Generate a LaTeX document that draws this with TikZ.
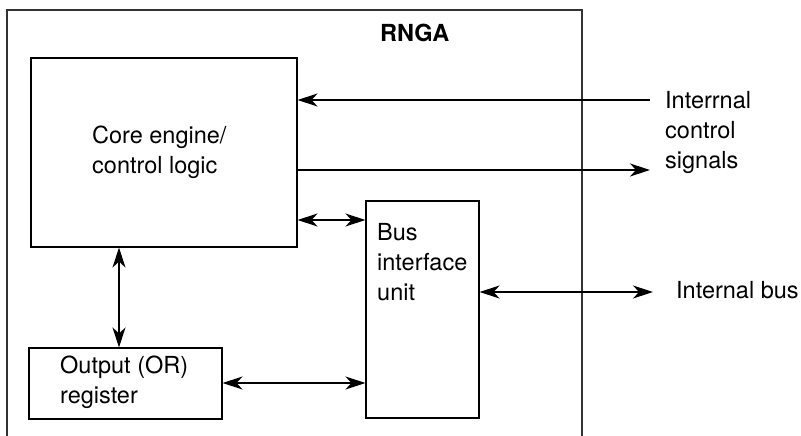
\documentclass[tikz,border=0pt]{standalone}
\usepackage{fontspec}
\setmainfont{TeX Gyre Heros}
\usetikzlibrary{arrows.meta}
\begin{document}
\begin{tikzpicture}[x=1pt,y=-1pt,
  box/.style={draw,line width=1.1pt,inner sep=0pt,minimum width=#1},
  lbl/.style={anchor=base west,inner sep=0pt,align=left,font=\fontsize{23.5}{30}\selectfont},
  tip/.style={line width=1.1pt,-{Stealth[length=20pt,width=13pt,inset=6pt]}},
  tips/.style={line width=1.1pt,{Stealth[length=20pt,width=13pt,inset=6pt]}-{Stealth[length=20pt,width=13pt,inset=6pt]}}]
\useasboundingbox (0,0) rectangle (801,436);
% outer RNGA box (open at bottom)
\coordinate (obl) at (7,436);
\coordinate (otl) at (7,10);
\coordinate (otr) at (582,10);
\coordinate (obr) at (582,436);
\draw[line width=1.1pt,draw=black!80] (obl) -- (otl) -- (otr) -- (obr);
\node[anchor=base west,inner sep=0pt,font=\fontsize{23.5}{30}\selectfont\bfseries] (rnga) at (380,42) {RNGA};
% blocks
\node[box=266pt,minimum height=189pt] (core) at (164,152.5) {};
\node[box=193pt,minimum height=71pt] (reg) at (125.5,383.5) {};
\node[box=113pt,minimum height=217pt] (bus) at (422.5,309.5) {};
\node[lbl] (coret) at (92,173) {Core engine/\\control logic};
\node[lbl] (regt) at (60,403) {Output (OR)\\register};
\node[lbl] (bust) at (377,300) {Bus\\interface\\unit};
\node[lbl] (sigt) at (665,168) {Interrnal\\control\\signals};
\node[lbl] (ibt) at (676,298) {Internal bus};
% connector end points
\coordinate (sin) at (650,100);
\coordinate (sout) at (650,170);
\coordinate (cb) at (330,220);
\coordinate (cr) at (119,300);
\coordinate (rb) at (300,383);
\coordinate (ext) at (653,292);
% connectors
\draw[tip] (sin) -- (core.east |- sin);
\draw[tip] (core.east |- sout) -- (sout);
\draw[tips] (core.east |- cb) -- (bus.west |- cb);
\draw[tips] (core.south -| cr) -- (reg.north -| cr);
\draw[tips] (reg.east |- rb) -- (bus.west |- rb);
\draw[tips] (bus.east |- ext) -- (ext);
\end{tikzpicture}
\end{document}
